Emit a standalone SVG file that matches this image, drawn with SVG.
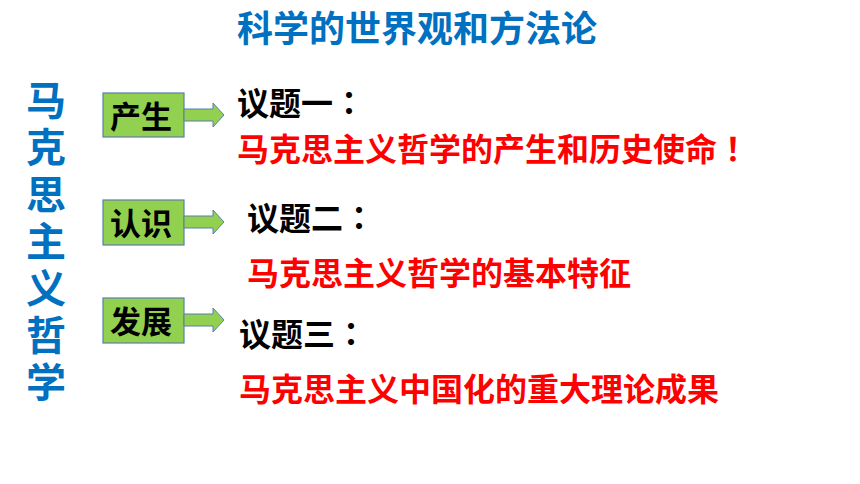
<svg xmlns="http://www.w3.org/2000/svg" width="860" height="484" viewBox="0 0 860 484">
<style>
text{font-family:"Noto Sans CJK SC","Noto Sans",sans-serif;font-weight:bold}
.p{font-family:"Noto Sans CJK TC","Noto Sans CJK SC",sans-serif}
.title{fill:#0070C0;font-size:36px}
.side{fill:#0070C0;font-size:40px}
.tag{fill:#000;font-size:31px}
.q{fill:#000;font-size:32px}
.r{fill:#FF0000;font-size:32px}
.box{fill:#92D050;stroke:#5B7FA8;stroke-width:1.2}
.arr{fill:#92D050;stroke:#5B7FA8;stroke-width:1}
</style>
<rect width="860" height="484" fill="#fff"/>
<g id="title"><text class="title" x="237" y="42">科学的世界观和方法论</text></g>
<g id="side">
<text class="side" x="46" y="80" writing-mode="vertical-rl" letter-spacing="7">马克思主义哲学</text>
</g>
<g id="node1">
<rect class="box" x="103" y="93" width="81" height="44"/>
<text class="tag" x="110" y="128">产生</text>
</g>
<g id="node2">
<rect class="box" x="103" y="200" width="81" height="45"/>
<text class="tag" x="110" y="235">认识</text>
</g>
<g id="node3">
<rect class="box" x="103" y="298" width="81" height="45"/>
<text class="tag" x="110" y="333">发展</text>
</g>
<g id="connectors">
<path class="arr" d="M184,109 H213 V103 L224,115 L213,127 V121 H184 Z"/>
<path class="arr" d="M184,216 H213 V210 L224,222 L213,234 V228 H184 Z"/>
<path class="arr" d="M184,314 H213 V308 L224,320 L213,332 V326 H184 Z"/>
</g>
<g id="topic1">
<text class="q" x="237" y="115">议题一<tspan class="p">：</tspan></text>
<text class="r" x="237" y="161">马克思主义哲学的产生和历史使命<tspan class="p">！</tspan></text>
</g>
<g id="topic2">
<text class="q" x="247" y="230">议题二<tspan class="p">：</tspan></text>
<text class="r" x="247" y="285">马克思主义哲学的基本特征</text>
</g>
<g id="topic3">
<text class="q" x="239" y="346">议题三<tspan class="p">：</tspan></text>
<text class="r" x="239" y="401">马克思主义中国化的重大理论成果</text>
</g>
</svg>
